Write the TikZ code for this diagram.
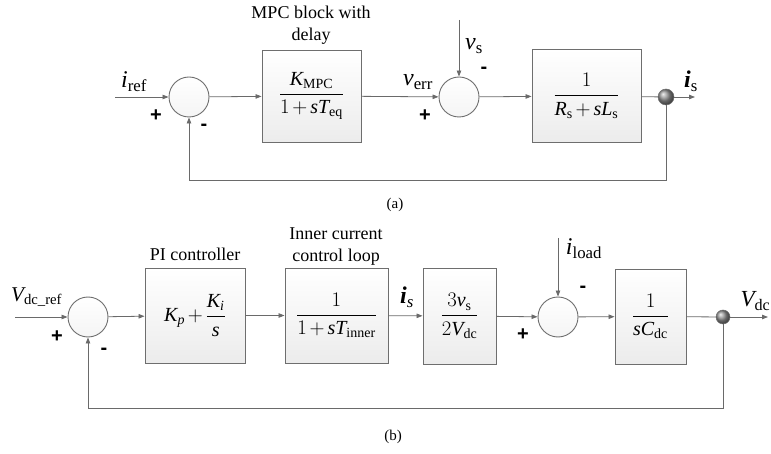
\documentclass[tikz,border=0pt]{standalone}
\usepackage{amsmath}
\usepackage{fontspec}
\setmainfont{Liberation Serif}
\newfontfamily\serifm{Liberation Serif}
\newfontfamily\sansb{Liberation Sans}
\usetikzlibrary{arrows.meta,shadings}
\definecolor{ln}{HTML}{6A6A6A}
\definecolor{bd}{HTML}{6E6E6E}
\newcommand{\tightmu}{\medmuskip=2.5mu\relax}
\begin{document}
\begin{tikzpicture}[x=1pt,y=-1pt,
  cline/.style={draw=ln, line width=0.8pt},
  arr/.style={cline, -{Triangle[length=6pt,width=4.5pt]}},
  blk/.style={draw=bd, line width=0.9pt, top color=white, bottom color=gray!15, inner sep=0pt, font=\serifm\fontsize{20}{24}\selectfont},
  sumc/.style={circle, draw=bd, line width=0.9pt, top color=white, bottom color=gray!8, minimum size=40pt, inner sep=0pt},
  dotc/.style={circle, draw=bd, line width=0.5pt, ball color=gray!85, inner sep=0pt},
  sgn/.style={font=\sansb\bfseries\fontsize{20}{20}\selectfont, inner sep=0pt},
  ttl/.style={font=\serifm\fontsize{18}{22}\selectfont, align=center, inner sep=0pt},
  lbl/.style={font=\serifm\fontsize{24}{26}\selectfont, inner sep=0pt},
  captxt/.style={font=\serifm\fontsize{15}{18}\selectfont, inner sep=0pt}]
\useasboundingbox (0,0) rectangle (771,454);

% ---------------- (a) ----------------
\coordinate (ain) at (115,97);
\node[sumc] (s1) at (189,97) {};
\node[blk, minimum width=99pt, minimum height=92pt] (b1) at (311.5,96)
  {$\tightmu\dfrac{\textit{K}_{\text{MPC}}}{1+\textit{sT}_{\text{eq}}}$};
\node[sumc] (s2) at (459,97) {};
\coordinate (vstop) at (459,20);
\node[blk, minimum width=109pt, minimum height=93pt] (b2) at (586.5,96)
  {$\tightmu\dfrac{1}{\textit{R}_{\text{s}}+\textit{sL}_{\text{s}}}$};
\node[dotc, minimum size=16pt] (d1) at (666,97) {};
\coordinate (aout) at (695,97);
\coordinate (fa1) at (666,180);
\coordinate (fa2) at (189,180);

\draw[arr] (ain) -- (s1);
\draw[arr] (s1) -- (b1);
\draw[arr] (b1) -- (s2);
\draw[arr] (vstop) -- (s2);
\draw[arr] (s2) -- (b2);
\draw[cline] (b2) -- (d1);
\draw[arr] (d1) -- (aout);
\draw[arr] (d1) -- (fa1) -- (fa2) -- (s1);

\node[lbl] (tiref) at (134,82) {$\textit{i}_{\text{ref}}$};
\node[sgn] (pa1) at (156,116) {+};
\node[sgn] (ma1) at (204,127) {-};
\node[ttl] (tmpc) at (311,25) {MPC block with\\delay};
\node[lbl] (tverr) at (418,82) {$\textit{v}_{\text{err}}$};
\node[sgn] (pa2) at (425,116) {+};
\node[sgn] (ma2) at (484,70) {-};
\node[lbl] (tvs) at (474,46) {$\textit{v}_{\text{s}}$};
\node[lbl] (tis) at (691,81) {$\textit{\textbf{i}}_{\text{s}}$};
\node[captxt] (capa) at (395,205) {(a)};

% ---------------- (b) ----------------
\coordinate (bin) at (15,317);
\node[sumc] (s3) at (88,317) {};
\node[blk, minimum width=100pt, minimum height=95pt] (b3) at (195,315.5)
  {$\tightmu\textit{K}_{\textit{p}}+\dfrac{\textit{K}_{\textit{i}}}{\textit{s}}$};
\node[blk, minimum width=103pt, minimum height=95pt] (b4) at (336.5,315.5)
  {$\tightmu\dfrac{1}{1+\textit{sT}_{\text{inner}}}$};
\node[blk, minimum width=73pt, minimum height=96pt] (b5) at (459.5,316)
  {$\dfrac{3\textit{v}_{\text{s}}}{2\textit{V}_{\text{dc}}}$};
\node[sumc] (s4) at (558,317) {};
\coordinate (iltop) at (558,238);
\node[blk, minimum width=71pt, minimum height=95pt] (b6) at (650.5,316.5)
  {$\dfrac{1}{\textit{sC}_{\text{dc}}}$};
\node[dotc, minimum size=14pt] (d2) at (723,317) {};
\coordinate (bout) at (768,317);
\coordinate (fb1) at (723,408);
\coordinate (fb2) at (88,408);

\draw[arr] (bin) -- (s3);
\draw[arr] (s3) -- (b3);
\draw[arr] (b3) -- (b4);
\draw[arr] (b4) -- (b5);
\draw[arr] (b5) -- (s4);
\draw[arr] (iltop) -- (s4);
\draw[arr] (s4) -- (b6);
\draw[cline] (b6) -- (d2);
\draw[arr] (d2) -- (bout);
\draw[arr] (d2) -- (fb1) -- (fb2) -- (s3);

\node[lbl, font=\serifm\fontsize{21}{24}\selectfont, anchor=west] (tvref) at (11,297) {$\textit{V}_{\text{dc\_ref}}$};
\node[sgn] (pb1) at (57,337) {+};
\node[sgn] (mb1) at (104,351) {-};
\node[ttl] (tpi) at (195,254) {PI controller};
\node[ttl] (tinner) at (336,247) {Inner current\\control loop};
\node[lbl] (tis2) at (407,297) {$\textit{\textbf{i}}_{\textit{s}}$};
\node[sgn] (pb2) at (523,335) {+};
\node[sgn] (mb2) at (583,289) {-};
\node[lbl] (tiload) at (584,249) {$\textit{i}_{\text{load}}$};
\node[lbl, font=\serifm\fontsize{23}{26}\selectfont, anchor=east] (tvdc) at (770.5,301) {$\textit{V}_{\text{dc}}$};
\node[captxt] (capb) at (393,437) {(b)};
\end{tikzpicture}
\end{document}
